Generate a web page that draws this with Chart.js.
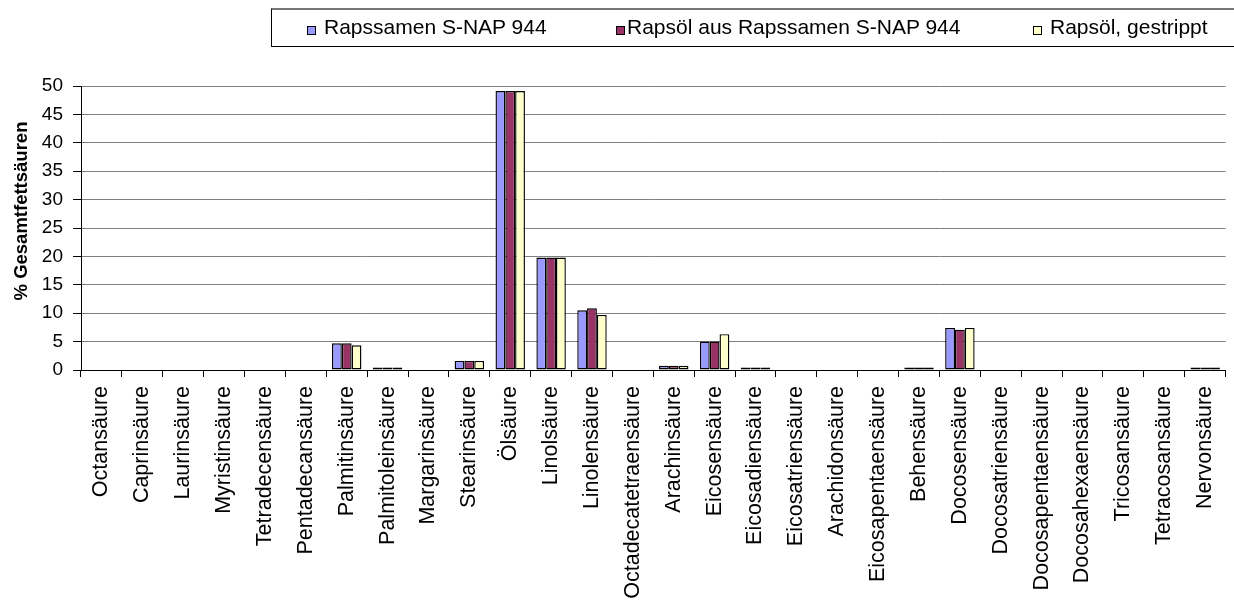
<!DOCTYPE html>
<html>
<head>
<meta charset="utf-8">
<script src="https://cdn.jsdelivr.net/npm/chart.js@4"></script>
<style>
    html, body { margin: 0; padding: 0; background: #fff; overflow: hidden; }
    #wrap { position: relative; width: 1234px; height: 614px; overflow: hidden; }
    #healthChart { position: absolute; left: 0; top: 0; }
    #legend {
        position: absolute; left: 271px; top: 8px; width: 980px; height: 39px;
        border: 1px solid #000; border-top: 2px solid #777; box-sizing: border-box;
        font-family: "Liberation Sans", Arial, sans-serif; font-size: 21px; color: #000;
    }
    .sw { position: absolute; top: 16px; width: 7px; height: 7px; border: 1px solid #000; }
    .lt { position: absolute; top: 6px; line-height: 21px; white-space: nowrap; }
</style>
</head>
<body>
<div id="wrap">
    <canvas id="healthChart" width="1240" height="614"></canvas>
    <div id="legend"></div>
</div>
<script>
const categories = [
    'Octansäure', 'Caprinsäure', 'Laurinsäure', 'Myristinsäure', 'Tetradecensäure',
    'Pentadecansäure', 'Palmitinsäure', 'Palmitoleinsäure', 'Margarinsäure', 'Stearinsäure',
    'Ölsäure', 'Linolsäure', 'Linolensäure', 'Octadecatetraensäure', 'Arachinsäure',
    'Eicosensäure', 'Eicosadiensäure', 'Eicosatriensäure', 'Arachidonsäure', 'Eicosapentaensäure',
    'Behensäure', 'Docosensäure', 'Docosatriensäure', 'Docosapentaensäure', 'Docosahexaensäure',
    'Tricosansäure', 'Tetracosansäure', 'Nervonsäure'
];

const seriesNames = ['Rapssamen S-NAP 944', 'Rapsöl aus Rapssamen S-NAP 944', 'Rapsöl, gestrippt'];

const rapssamen = [0, 0, 0, 0, 0, 0, 4.7, 0.45, 0, 1.6, 49.1, 19.8, 10.5, 0, 0.75, 5.0, 0.45, 0, 0, 0, 0.45, 7.4, 0, 0, 0, 0, 0, 0.45];
const rapsoel = [0, 0, 0, 0, 0, 0, 4.7, 0.45, 0, 1.6, 49.1, 19.8, 10.85, 0, 0.75, 5.0, 0.45, 0, 0, 0, 0.45, 7.1, 0, 0, 0, 0, 0, 0.45];
const gestrippt = [0, 0, 0, 0, 0, 0, 4.35, 0.45, 0, 1.6, 49.1, 19.8, 9.7, 0, 0.75, 6.3, 0.45, 0, 0, 0, 0.45, 7.4, 0, 0, 0, 0, 0, 0.45];

const yTicks = [0, 5, 10, 15, 20, 25, 30, 35, 40, 45, 50];
const axisTitle = '% Gesamtfettsäuren';

const colors = ['#9999FF', '#993366', '#FFFFCC'];
const font = '"Liberation Sans", Arial, sans-serif';

const legendPos = [[306, 323], [615, 626], [1032, 1049]];
const legendBox = document.getElementById('legend');
seriesNames.forEach((name, i) => {
    const sw = document.createElement('div');
    sw.className = 'sw';
    sw.style.left = (legendPos[i][0] - 271) + 'px';
    sw.style.background = colors[i];
    const lt = document.createElement('div');
    lt.className = 'lt';
    lt.style.left = (legendPos[i][1] - 271) + 'px';
    lt.textContent = name;
    legendBox.appendChild(sw);
    legendBox.appendChild(lt);
});

// y title sits a bit above the middle of the axis in the original
const yTitle = {
    id: 'yTitle',
    afterDraw(chart) {
        const c = chart.ctx;
        c.save();
        c.translate(27, 211);
        c.rotate(-Math.PI / 2);
        c.textAlign = 'center';
        c.textBaseline = 'alphabetic';
        c.fillStyle = '#000';
        c.font = 'bold 18.5px ' + font;
        c.fillText(axisTitle, 0, 0);
        c.restore();
    }
};

const ctx = document.getElementById('healthChart').getContext('2d');
const values = [rapssamen, rapsoel, gestrippt];

new Chart(ctx, {
    type: 'bar',
    data: {
        labels: categories,
        datasets: values.map((data, i) => ({
            label: seriesNames[i],
            data: data,
            backgroundColor: colors[i],
            borderColor: '#000',
            borderWidth: 1.4,
            borderSkipped: false,
            categoryPercentage: 0.72,
            barPercentage: 1
        }))
    },
    options: {
        responsive: false,
        animation: false,
        layout: { padding: { left: 0, right: 2, top: 86, bottom: 0 } },
        plugins: { legend: { display: false }, tooltip: { enabled: false } },
        scales: {
            x: {
                offset: true,
                afterFit: (scale) => { scale.height = 244; },
                grid: { offset: true, drawOnChartArea: false, tickLength: 7, tickColor: '#000' },
                border: { color: '#000', width: 1 },
                ticks: {
                    autoSkip: false, minRotation: 90, maxRotation: 90, padding: 9,
                    color: '#000', font: { family: font, size: 21.5 }
                }
            },
            y: {
                min: 0,
                max: 50,
                afterFit: (scale) => { scale.width = 81; },
                afterBuildTicks: (scale) => { scale.ticks = yTicks.map(v => ({ value: v })); },
                grid: { color: '#808080', tickColor: '#000', tickLength: 8, lineWidth: 1 },
                border: { color: '#000', width: 1 },
                ticks: { padding: 10, color: '#000', font: { family: font, size: 19 } }
            }
        }
    },
    plugins: [yTitle]
});
</script>
</body>
</html>
